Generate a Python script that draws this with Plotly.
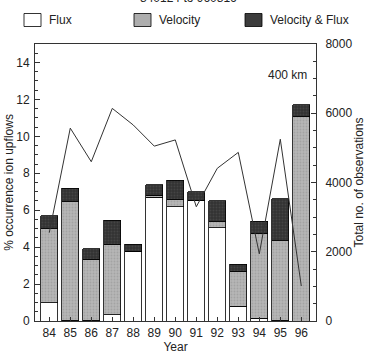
import plotly.graph_objects as go

years = ["84", "85", "86", "87", "88", "89", "90", "91", "92", "93", "94", "95", "96"]
flux = [1.0, 0.05, 0.05, 0.35, 3.77, 6.7, 6.2, 6.55, 5.05, 0.8, 0.15, 0.05, 0.0]
velocity = [4.0, 6.4, 3.3, 3.8, 0.0, 0.12, 0.38, 0.0, 0.33, 1.9, 4.6, 4.3, 11.1]
vel_flux = [0.7, 0.75, 0.55, 1.3, 0.38, 0.55, 1.05, 0.45, 1.13, 0.37, 0.65, 2.26, 0.6]
total_obs = [2550, 5570, 4600, 6140, 5660, 5050, 5230, 3300, 4410, 4870, 1940, 5250, 1010]

W, H = 368, 357
L, R, T, B = 35, 316, 44, 321
FONT = "Liberation Sans, Arial, sans-serif"

fig = go.Figure()
bar_line = dict(color="black", width=0.8)
fig.add_trace(go.Bar(x=years, y=flux, name="Flux", marker=dict(color="white", line=bar_line), width=0.8))
fig.add_trace(go.Bar(x=years, y=velocity, name="Velocity", marker=dict(color="#aeaeae", line=bar_line,
                     pattern=dict(shape=".", fgcolor="#909090", bgcolor="#b6b6b6", size=3, solidity=0.3)), width=0.8))
fig.add_trace(go.Bar(x=years, y=vel_flux, name="Velocity & Flux", marker=dict(color="#3c3c3c", line=bar_line,
                     pattern=dict(shape=".", fgcolor="#555555", bgcolor="#333333", size=3, solidity=0.3)), width=0.8))
fig.add_trace(go.Scatter(x=years, y=total_obs, yaxis="y2", mode="lines",
                         line=dict(color="#333333", width=1), showlegend=False))

def px_x(p):
    return (p - L) / (R - L)

def px_y(p):
    return (B - p) / (B - T)

shapes = []
annotations = []
legend_items = [("Flux", "white", 24), ("Velocity", "#aeaeae", 134), ("Velocity & Flux", "#3c3c3c", 245)]
for name, col, x0 in legend_items:
    shapes.append(dict(type="rect", xref="paper", yref="paper",
                       x0=px_x(x0), x1=px_x(x0 + 17), y0=px_y(26.5), y1=px_y(13.5),
                       fillcolor=col, line=dict(color="black", width=0.8)))
    annotations.append(dict(xref="paper", yref="paper", x=px_x(x0 + 23), y=px_y(20),
                            text=name, showarrow=False, xanchor="left", yanchor="middle",
                            font=dict(size=12, color="#222", family=FONT)))

annotations.append(dict(xref="paper", yref="paper", x=px_x(188), y=px_y(-2),
                        text="840124 to 960816", showarrow=False, xanchor="center", yanchor="middle",
                        font=dict(size=12, color="#222", family=FONT)))
annotations.append(dict(xref="paper", yref="paper", x=px_x(309), y=px_y(75),
                        text="400 km", showarrow=False, xanchor="right", yanchor="middle",
                        font=dict(size=12, color="#222", family=FONT)))

fig.update_layout(
    width=W, height=H,
    margin=dict(l=L, r=W - R, t=T, b=H - B, pad=0, autoexpand=False),
    paper_bgcolor="white", plot_bgcolor="white",
    barmode="stack", bargap=0.2,
    showlegend=False,
    font=dict(family=FONT, size=12, color="#222"),
    shapes=shapes, annotations=annotations,
    xaxis=dict(range=[-0.68, 12.7], showline=True, linecolor="#333", linewidth=1, mirror=True,
               ticks="inside", ticklen=4, tickcolor="#333", showgrid=False, ticklabelstandoff=1,
               automargin=False,
               title=dict(text="Year", standoff=2, font=dict(size=12)), tickfont=dict(size=12)),
    yaxis=dict(range=[0, 15], showline=True, linecolor="#333", linewidth=1,
               ticks="inside", ticklen=5, tickcolor="#333", dtick=2, showgrid=False, zeroline=False,
               ticklabelstandoff=2, automargin=False,
               minor=dict(dtick=0.5, ticks="inside", ticklen=3, tickcolor="#333"),
               title=dict(text="% occurrence ion upflows", standoff=0, font=dict(size=12)),
               tickfont=dict(size=12)),
    yaxis2=dict(range=[0, 8000], overlaying="y", side="right", showline=True, linecolor="#333",
                linewidth=1, ticks="inside", ticklen=5, tickcolor="#333", dtick=2000, showgrid=False,
                zeroline=False, ticklabelstandoff=6, automargin=False,
                minor=dict(dtick=500, ticks="inside", ticklen=3, tickcolor="#333"),
                title=dict(text="Total no. of observations", standoff=1, font=dict(size=12)),
                tickfont=dict(size=12)),
)

fig.write_html("out.html")
